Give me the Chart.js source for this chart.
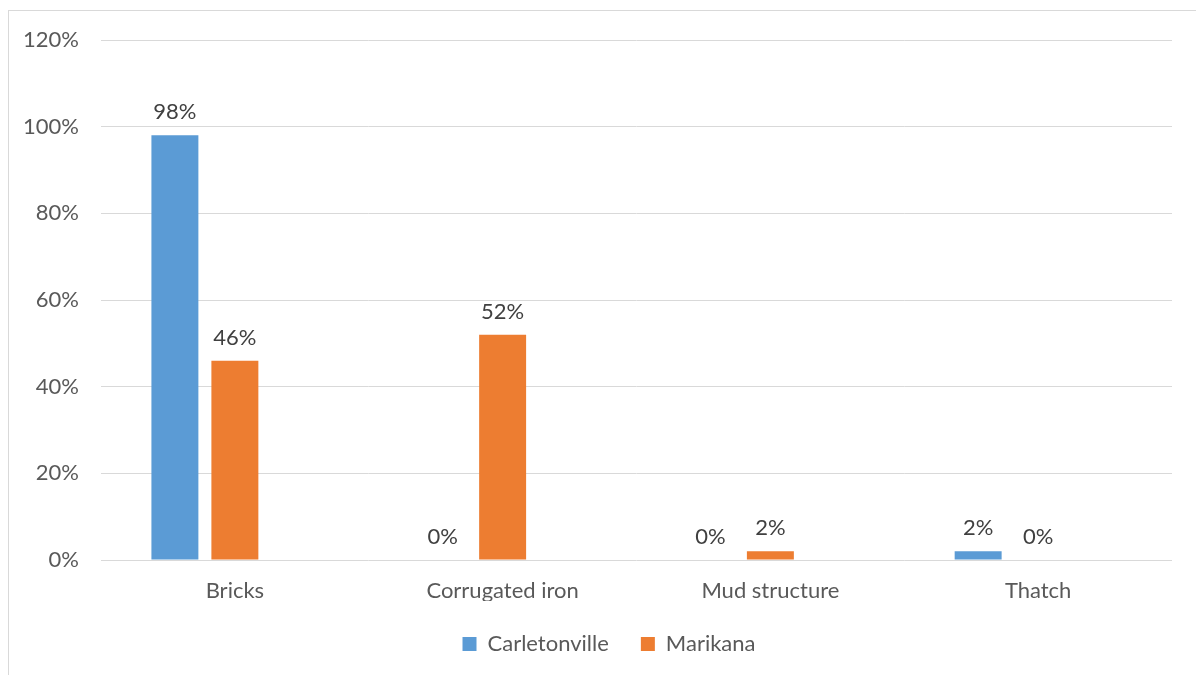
<!DOCTYPE html>
<html>
<head>
<meta charset="utf-8">
<script src="https://cdn.jsdelivr.net/npm/chart.js@4"></script>
<style>
  html, body { margin: 0; padding: 0; background: #fff; overflow: hidden; }
  #wrap { position: relative; width: 1196px; height: 675px; }
  #frame { position: absolute; left: 8px; top: 10px; width: 1200px; height: 700px; border: 1px solid #d9d9d9; box-sizing: border-box; }
  canvas { position: absolute; left: 0; top: 0; }
</style>
</head>
<body>
<div id="wrap">
  <div id="frame"></div>
  <canvas id="grafica" width="1196" height="675"></canvas>
</div>
<script>
// datos del grafico
const categorias = ['Bricks', 'Corrugated iron', 'Mud structure', 'Thatch'];
const carletonville = [98, 0, 0, 2];
const marikana = [46, 52, 2, 0];
// serie vacia: en el original ocupa un hueco a la derecha de cada grupo
const vacia = [null, null, null, null];
const ticksY = [0, 20, 40, 60, 80, 100, 120];

const fuente = 'Lato, "Open Sans", sans-serif';
const tam = 22;

// etiquetas de valor encima de cada barra
const etiquetasPlugin = {
    id: 'etiquetas',
    afterLayout(chart) {
        // la leyenda del original esta algo desplazada a la derecha
        chart.legend.left += 23;
        chart.legend.right += 23;
    },
    afterDatasetsDraw(chart) {
        const ctx = chart.ctx;
        ctx.save();
        ctx.font = tam + 'px ' + fuente;
        ctx.fillStyle = '#404040';
        ctx.textAlign = 'center';
        ctx.textBaseline = 'bottom';
        chart.data.datasets.forEach((ds, i) => {
            const meta = chart.getDatasetMeta(i);
            meta.data.forEach((bar, j) => {
                if (ds.data[j] === null) return;
                ctx.fillText(ds.data[j] + '%', bar.x, bar.y - 12);
            });
        });
        ctx.restore();
    }
};

const ctx = document.getElementById('grafica').getContext('2d');
const chart = new Chart(ctx, {
    type: 'bar',
    data: {
        labels: categorias,
        datasets: [
            {
                label: 'Carletonville',
                data: carletonville,
                backgroundColor: '#5b9bd5',
                categoryPercentage: 0.672,
                barPercentage: 0.783
            },
            {
                label: 'Marikana',
                data: marikana,
                backgroundColor: '#ed7d31',
                categoryPercentage: 0.672,
                barPercentage: 0.783
            },
            {
                label: '',
                data: vacia,
                backgroundColor: 'rgba(0,0,0,0)',
                categoryPercentage: 0.672,
                barPercentage: 0.783
            }
        ]
    },
    options: {
        responsive: false,
        animation: false,
        layout: {
            padding: { top: 40, right: 24, bottom: 10, left: 0 }
        },
        plugins: {
            legend: {
                position: 'bottom',
                labels: {
                    boxWidth: 14,
                    boxHeight: 14,
                    padding: 32,
                    color: '#595959',
                    font: { family: fuente, size: tam },
                    filter: item => item.text !== ''
                }
            },
            tooltip: { enabled: false }
        },
        scales: {
            x: {
                grid: { display: false },
                border: { display: false },
                ticks: {
                    color: '#595959',
                    font: { family: fuente, size: tam },
                    padding: 10
                },
                afterFit(scale) { scale.height = 41; }
            },
            y: {
                min: 0,
                max: 120,
                afterBuildTicks(scale) {
                    scale.ticks = ticksY.map(v => ({ value: v }));
                },
                grid: {
                    color: '#d9d9d9',
                    lineWidth: 1,
                    drawTicks: false
                },
                border: { display: false },
                ticks: {
                    color: '#595959',
                    font: { family: fuente, size: tam },
                    padding: 22,
                    callback: v => v + '%'
                },
                afterFit(scale) { scale.width = 101; }
            }
        }
    },
    plugins: [etiquetasPlugin]
});
</script>
</body>
</html>
